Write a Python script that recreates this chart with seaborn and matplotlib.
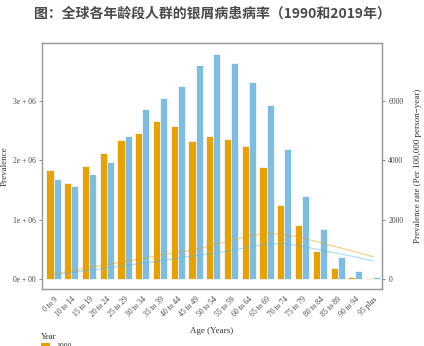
import numpy as np
import pandas as pd
import matplotlib
matplotlib.use("Agg")
import matplotlib.pyplot as plt
import seaborn as sns
from matplotlib.patches import Patch

ages = ["0 to 9", "10 to 14", "15 to 19", "20 to 24", "25 to 29", "30 to 34",
        "35 to 39", "40 to 44", "45 to 49", "50 to 54", "55 to 59", "60 to 64",
        "65 to 69", "70 to 74", "75 to 79", "80 to 84", "85 to 89", "90 to 94",
        "95 plus"]
years = ["1990", "2019"]
prev_1990 = [1.845e6, 1.61e6, 1.905e6, 2.13e6, 2.34e6, 2.47e6, 2.66e6, 2.585e6,
             2.33e6, 2.41e6, 2.36e6, 2.24e6, 1.895e6, 1.25e6, 0.91e6, 0.47e6,
             0.18e6, 0.04e6, 0.012e6]
prev_2019 = [1.69e6, 1.565e6, 1.765e6, 1.97e6, 2.41e6, 2.86e6, 3.06e6, 3.25e6,
             3.61e6, 3.80e6, 3.65e6, 3.32e6, 2.93e6, 2.20e6, 1.40e6, 0.84e6,
             0.375e6, 0.13e6, 0.035e6]
rate_1990 = [170, 270, 380, 480, 590, 690, 800, 900, 1000, 1150, 1300, 1450,
             1540, 1500, 1390, 1230, 1070, 910, 750]
rate_2019 = [130, 210, 290, 370, 450, 530, 610, 700, 790, 860, 960, 1070,
             1170, 1200, 1100, 980, 860, 740, 610]
left_ticks = [0, 1e6, 2e6, 3e6]
left_labels = ["0e + 00", "1e + 06", "2e + 06", "3e + 06"]
right_ticks = [0, 2000, 4000, 6000]

colors = {"1990": "#E9A100", "2019": "#7DBDE4"}
line_colors = {"1990": "#E69F00", "2019": "#56B4E9"}

df = pd.DataFrame({
    "Age": ages * 2,
    "Year": [years[0]] * len(ages) + [years[1]] * len(ages),
    "Prevalence": prev_1990 + prev_2019,
})
rate_df = pd.DataFrame({
    "pos": list(range(len(ages))) * 2,
    "Year": [years[0]] * len(ages) + [years[1]] * len(ages),
    "Rate": rate_1990 + rate_2019,
})

sns.set_style("white")
plt.rcParams["font.family"] = ["Liberation Serif", "DejaVu Serif"]

fig = plt.figure(figsize=(4.24, 3.46), dpi=100)
ax = fig.add_axes([42 / 424, 1 - 289 / 346, 340 / 424, 246 / 346])

sns.barplot(data=df, x="Age", y="Prevalence", hue="Year", order=ages,
            hue_order=years, palette=colors, ax=ax, width=0.8, saturation=1,
            edgecolor="#F4F8FB", linewidth=0.6, legend=False)

ax.set_xlim(-0.65, 18.5)
ymin, ymax = -0.17e6, 3.98e6
ax.set_ylim(ymin, ymax)
ax.set_yticks(left_ticks)
ax.set_yticklabels(left_labels, fontsize=5.5, color="#444444")
ax.set_xticks(range(len(ages)))
ax.set_xticklabels(ages, rotation=45, ha="right", rotation_mode="anchor",
                   fontsize=5.5, color="#444444")
ax.set_xlabel("Age (Years)", fontsize=6.5, color="#333333", labelpad=6)
ax.set_ylabel("Prevalence", fontsize=6.5, color="#333333", labelpad=3)
ax.tick_params(axis="both", length=2.5, width=0.6, color="#777777", pad=2)

ax2 = ax.twinx()
sns.lineplot(data=rate_df, x="pos", y="Rate", hue="Year", hue_order=years,
             palette=line_colors, ax=ax2, linewidth=0.9, alpha=0.45,
             legend=False)
ax2.set_ylim(ymin / 500, ymax / 500)
ax2.set_xlim(-0.65, 18.5)
ax2.set_yticks(right_ticks)
ax2.set_yticklabels([str(t) for t in right_ticks], fontsize=5.5, color="#444444")
ax2.set_ylabel("Prevalence rate (Per 100,000 person\u2212year)", fontsize=6.5,
               color="#333333", labelpad=8)
ax2.set_xlabel("")
ax2.tick_params(axis="y", length=2.5, width=0.6, color="#777777", pad=2)

for a in (ax, ax2):
    for s in a.spines.values():
        s.set_color("#999999")
        s.set_linewidth(0.9)

fig.text(0.5, 1 - 14 / 346, "图：全球各年龄段人群的银屑病患病率（1990和2019年）",
         ha="center", va="center", fontsize=10, color="#4A4A4A",
         family=["Noto Sans CJK SC", "DejaVu Sans"], weight="bold")

handles = [Patch(facecolor=colors[y], edgecolor="none", label=y) for y in years]
leg = fig.legend(handles=handles, title="Year", loc="upper left",
                 bbox_to_anchor=(34 / 424, 1 - 326 / 346), frameon=False,
                 fontsize=5.5, title_fontsize=6, handlelength=1.2,
                 handleheight=0.9, alignment="left", labelspacing=0.3)

fig.savefig("out.png", dpi=100)
